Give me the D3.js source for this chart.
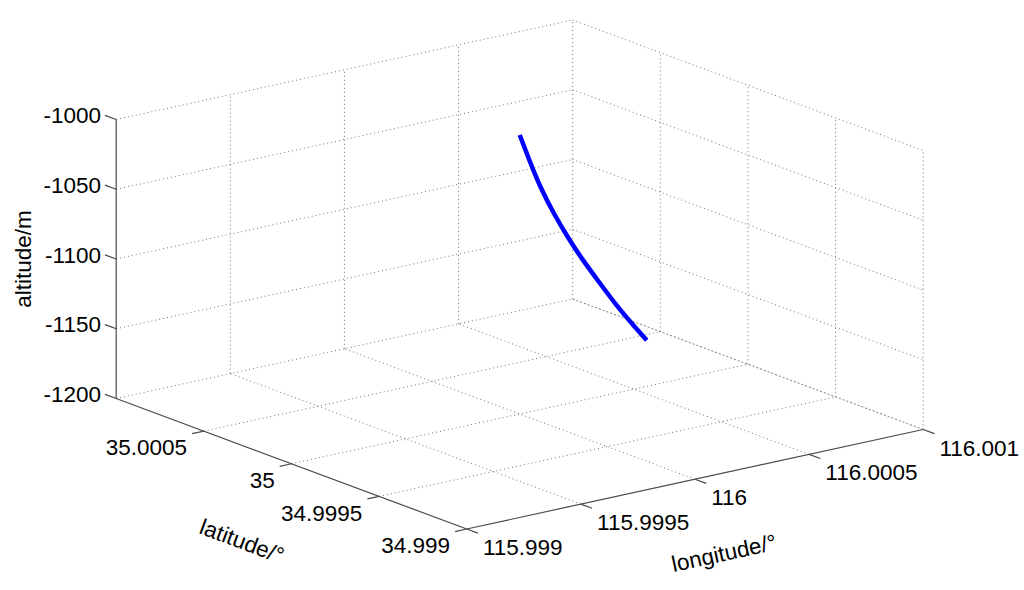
<!DOCTYPE html>
<html>
<head>
<meta charset="utf-8">
<script src="https://cdn.jsdelivr.net/npm/d3@7"></script>
<style>
	body { margin: 0; background: #fff; }
	svg { display: block; font-family: 'Liberation Sans', Arial, sans-serif; }
	.grid { stroke: #707070; stroke-width: 1; stroke-dasharray: 1 3; fill: none; }
	.axis { stroke: #4a4a4a; stroke-width: 1.2; fill: none; }
	text { font-size: 22.5px; fill: #000; }
</style>
</head>
<body>
<svg id="chart" width="1024" height="590"></svg>
<script>
// axis limits
const latRange = [34.999, 35.001]
const lonRange = [115.999, 116.001]
const altRange = [-1200, -1000]

// ticks
const latTicks = [34.999, 34.9995, 35, 35.0005]
const latTickLabels = ['34.999', '34.9995', '35', '35.0005']
const lonTicks = [115.999, 115.9995, 116, 116.0005, 116.001]
const lonTickLabels = ['115.999', '115.9995', '116', '116.0005', '116.001']
const altTicks = [-1200, -1150, -1100, -1050, -1000]
const altTickLabels = ['-1200', '-1150', '-1100', '-1050', '-1000']

// trajectory
const trackLat = [35.0, 34.999981, 34.999963, 34.999939, 34.999912, 34.999885, 34.999854, 34.999824, 34.999794, 34.99977]
const trackLon = [116.0, 116.000031, 116.000061, 116.000101, 116.000146, 116.00019, 116.000241, 116.00029, 116.00034, 116.00038]
const trackAlt = [-1000, -1019.6, -1037.0, -1056.3, -1074.9, -1091.3, -1108.4, -1124.3, -1138.9, -1150]

/*
Box projection: the front bottom corner sits at origin, each axis
runs along its own screen vector (orthographic, like matlab's view)
*/
const origin = [466.7, 529]
const latVec = [-350.5, -130.5]
const lonVec = [456.5, -99.5]
const altVec = [0, -279]

const latScale = d3.scaleLinear().domain(latRange).range([0, 1])
const lonScale = d3.scaleLinear().domain(lonRange).range([0, 1])
const altScale = d3.scaleLinear().domain(altRange).range([0, 1])

const project = (lat, lon, alt) => {
	const u = latScale(lat)
	const v = lonScale(lon)
	const w = altScale(alt)
	return [
		origin[0] + u * latVec[0] + v * lonVec[0] + w * altVec[0],
		origin[1] + u * latVec[1] + v * lonVec[1] + w * altVec[1]
	]
}

const unit = vec => {
	const len = Math.hypot(vec[0], vec[1])
	return [vec[0] / len, vec[1] / len]
}
const latDir = unit(latVec)
const lonDir = unit(lonVec)
const tickLen = 12

const [latMin, latMax] = latRange
const [lonMin, lonMax] = lonRange
const [altMin, altMax] = altRange

const svg = d3.select('#chart')
const line = d3.line()

// grid on the floor and the two back walls
const gridSegs = []
altTicks.forEach(alt => {
	gridSegs.push([project(latMax, lonMin, alt), project(latMax, lonMax, alt)])
	gridSegs.push([project(latMax, lonMax, alt), project(latMin, lonMax, alt)])
})
lonTicks.filter(d => d !== lonMin).forEach(lon => {
	gridSegs.push([project(latMax, lon, altMin), project(latMax, lon, altMax)])
	gridSegs.push([project(latMin, lon, altMin), project(latMax, lon, altMin)])
})
latTicks.forEach(lat => {
	gridSegs.push([project(lat, lonMax, altMin), project(lat, lonMax, altMax)])
	if (lat !== latMin) {
		gridSegs.push([project(lat, lonMin, altMin), project(lat, lonMax, altMin)])
	}
})

svg.append('g')
	.selectAll('path')
	.data(gridSegs)
	.join('path')
	.attr('class', 'grid')
	.attr('d', line)

// axis lines
const axisSegs = [
	[project(latMax, lonMin, altMin), project(latMax, lonMin, altMax)],
	[project(latMax, lonMin, altMin), project(latMin, lonMin, altMin)],
	[project(latMin, lonMin, altMin), project(latMin, lonMax, altMin)]
]
svg.append('g')
	.selectAll('path')
	.data(axisSegs)
	.join('path')
	.attr('class', 'axis')
	.attr('d', line)

// altitude ticks + labels
const altG = svg.append('g')
altTicks.forEach((alt, i) => {
	const p = project(latMax, lonMin, alt)
	const end = [p[0] + latDir[0] * tickLen, p[1] + latDir[1] * tickLen]
	altG.append('path').attr('class', 'axis').attr('d', line([p, end]))
	altG.append('text')
		.attr('x', end[0] - 4)
		.attr('y', end[1])
		.attr('dy', '0.35em')
		.attr('text-anchor', 'end')
		.text(altTickLabels[i])
})

// latitude ticks + labels
const latG = svg.append('g')
latTicks.forEach((lat, i) => {
	const p = project(lat, lonMin, altMin)
	const end = [p[0] - lonDir[0] * tickLen, p[1] - lonDir[1] * tickLen]
	latG.append('path').attr('class', 'axis').attr('d', line([p, end]))
	latG.append('text')
		.attr('x', end[0] - 5)
		.attr('y', end[1] + 13.7)
		.attr('dy', '0.35em')
		.attr('text-anchor', 'end')
		.text(latTickLabels[i])
})

// longitude ticks + labels
const lonG = svg.append('g')
lonTicks.forEach((lon, i) => {
	const p = project(latMin, lon, altMin)
	const end = [p[0] - latDir[0] * tickLen, p[1] - latDir[1] * tickLen]
	lonG.append('path').attr('class', 'axis').attr('d', line([p, end]))
	lonG.append('text')
		.attr('x', end[0] + 5)
		.attr('y', end[1] + 14)
		.attr('dy', '0.35em')
		.attr('text-anchor', 'start')
		.text(lonTickLabels[i])
})

// axis titles
const latAngle = Math.atan2(-latVec[1], -latVec[0]) * 180 / Math.PI
const lonAngle = Math.atan2(lonVec[1], lonVec[0]) * 180 / Math.PI

svg.append('text')
	.attr('transform', 'translate(23,259) rotate(-90)')
	.attr('dy', '0.35em')
	.attr('text-anchor', 'middle')
	.text('altitude/m')

svg.append('text')
	.attr('transform', `translate(242,541) rotate(${latAngle})`)
	.attr('dy', '0.35em')
	.attr('text-anchor', 'middle')
	.text('latitude/°')

svg.append('text')
	.attr('transform', `translate(724,553) rotate(${lonAngle})`)
	.attr('dy', '0.35em')
	.attr('text-anchor', 'middle')
	.text('longitude/°')

// trajectory
const track = trackLat.map((lat, i) => project(lat, trackLon[i], trackAlt[i]))
svg.append('path')
	.attr('d', d3.line().curve(d3.curveNatural)(track))
	.attr('fill', 'none')
	.attr('stroke', '#0000ff')
	.attr('stroke-width', 4.5)
</script>
</body>
</html>
